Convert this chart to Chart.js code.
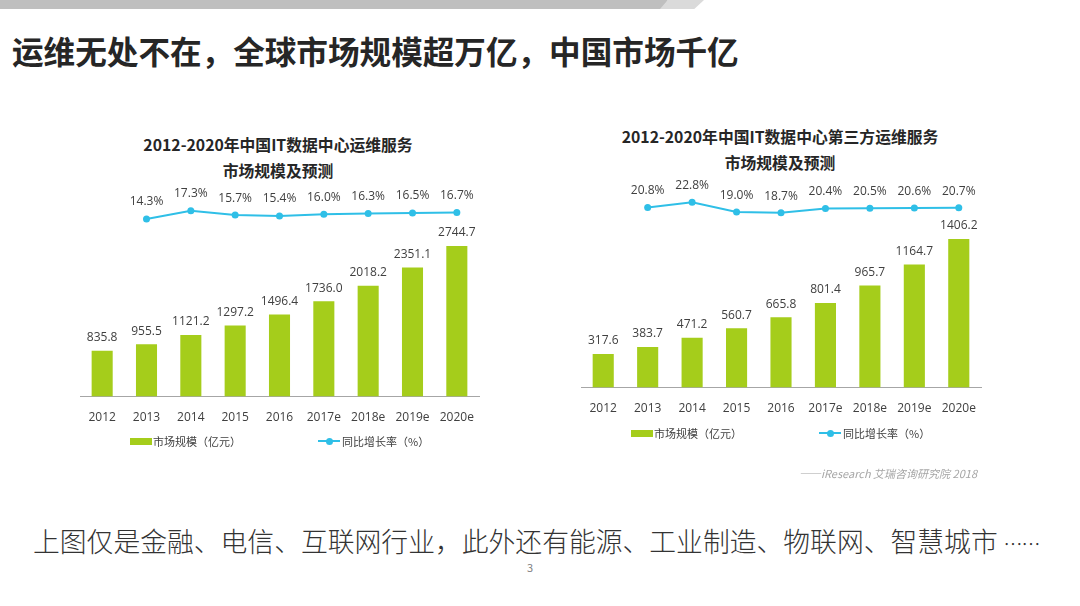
<!DOCTYPE html>
<html lang="zh-CN">
<head>
<meta charset="utf-8">
<title>运维无处不在</title>
<script src="https://cdn.jsdelivr.net/npm/chart.js@4.4.0/dist/chart.umd.min.js"></script>
<style>
  html, body { margin: 0; padding: 0; background: #fff; }
  body {
    width: 1080px; height: 606px; position: relative; overflow: hidden;
    font-family: "Noto Sans CJK SC", "Open Sans", sans-serif; color: #404040;
  }
  .band { position: absolute; top: 0; height: 9px; }
  .band.dark  { left: 0; width: 668px; background: #bfbfbf; clip-path: polygon(0 0, 100% 0, 99% 100%, 0 100%); }
  .band.light { left: 660px; width: 44px; background: #dadada; clip-path: polygon(18% 0, 100% 0, 78% 100%, 0 100%); }
  .headline {
    position: absolute; left: 12px; top: 32px; line-height: 36px;
    font-size: 31.6px; font-weight: 700; color: #262626; white-space: nowrap;
  }
  .chart-title {
    position: absolute; width: 420px; text-align: center;
    font-size: 15.8px; line-height: 26px; font-weight: 700; color: #262626;
  }
  canvas { position: absolute; }
  .legend { position: absolute; height: 16px; font-size: 11px; color: #404040; }
  .legend .item { position: absolute; top: 0; display: flex; align-items: center; height: 16px; white-space: nowrap; }
  .legend .box { width: 22px; height: 7px; margin-right: 1px; }
  .legend .lineKey { width: 22px; height: 2px; position: relative; margin-right: 2px; }
  .legend .lineKey i { position: absolute; left: 8px; top: -2.5px; width: 7px; height: 7px; border-radius: 50%; }
  .source {
    position: absolute; right: 103px; top: 465px; font-size: 11px; font-style: italic;
    color: #a6a6a6; white-space: nowrap;
  }
  .note {
    position: absolute; left: 33px; top: 526px; font-size: 26.8px; line-height: 30px;
    font-weight: 300; color: #333; white-space: nowrap;
  }
  .note .dots { font-size: 19px; letter-spacing: -1px; }
  .page { position: absolute; left: 527px; top: 559px; font-size: 11px; color: #7f7f7f; }
</style>
</head>
<body>
<div class="band dark"></div>
<div class="band light"></div>
<div class="headline">运维无处不在，全球市场规模超万亿，中国市场千亿</div>

<div class="chart-title" style="left:68px; top:132px;">2012-2020年中国IT数据中心运维服务<br>市场规模及预测</div>
<div class="chart-title" style="left:570px; top:124px;">2012-2020年中国IT数据中心第三方运维服务<br>市场规模及预测</div>

<canvas id="left" width="440" height="259" style="left:60px; top:180px;"></canvas>
<canvas id="right" width="440" height="258" style="left:560px; top:172px;"></canvas>

<div class="legend" id="leftLegend" style="left:0; top:433px;"></div>
<div class="legend" id="rightLegend" style="left:0; top:425px;"></div>

<div class="source">——iResearch 艾瑞咨询研究院 2018</div>
<div class="note">上图仅是金融、电信、互联网行业，此外还有能源、工业制造、物联网、智慧城市 <span class="dots">……</span></div>
<div class="page">3</div>

<script>
// ── data ─────────────────────────────────────────────────────────────────────
const YEARS = ['2012', '2013', '2014', '2015', '2016', '2017e', '2018e', '2019e', '2020e'];

// IT data centre O&M services, market size (亿元) and YoY growth (%)
const ALL_MARKET = [835.8, 955.5, 1121.2, 1297.2, 1496.4, 1736.0, 2018.2, 2351.1, 2744.7];
const ALL_GROWTH = [null, 14.3, 17.3, 15.7, 15.4, 16.0, 16.3, 16.5, 16.7];

// third-party O&M services
const TP_MARKET = [317.6, 383.7, 471.2, 560.7, 665.8, 801.4, 965.7, 1164.7, 1406.2];
const TP_GROWTH = [null, 20.8, 22.8, 19.0, 18.7, 20.4, 20.5, 20.6, 20.7];

const BAR_LABEL = '市场规模（亿元）';
const LINE_LABEL = '同比增长率（%）';

const GREEN = '#a5cd1b';
const CYAN = '#2fbfe7';
const TEXT = '#404040';
const NUM_FONT = '"Open Sans", "Noto Sans CJK SC", sans-serif';

Chart.defaults.font.family = NUM_FONT;
Chart.defaults.color = TEXT;

// ── value labels above bars and points ───────────────────────────────────────
const valueLabels = {
  id: 'valueLabels',
  afterDatasetsDraw(chart) {
    const ctx = chart.ctx;
    ctx.save();
    ctx.font = '12px ' + NUM_FONT;
    ctx.fillStyle = TEXT;
    ctx.textAlign = 'center';
    ctx.textBaseline = 'middle';
    chart.data.datasets.forEach((ds, i) => {
      const isLine = ds.type === 'line';
      chart.getDatasetMeta(i).data.forEach((el, j) => {
        const v = ds.data[j];
        if (v == null) return;
        const text = isLine ? v.toFixed(1) + '%' : v.toFixed(1);
        ctx.fillText(text, el.x, el.y - (isLine ? ds.labelGap : 13));
      });
    });
    ctx.restore();
  }
};

function makeChart(id, market, growth, opts) {
  return new Chart(document.getElementById(id), {
    type: 'bar',
    data: {
      labels: YEARS,
      datasets: [
        {
          type: 'line',
          label: LINE_LABEL,
          data: growth,
          yAxisID: 'y2',
          borderColor: CYAN,
          backgroundColor: CYAN,
          borderWidth: 2,
          pointRadius: 3.5,
          pointBackgroundColor: CYAN,
          pointBorderWidth: 0,
          tension: 0,
          labelGap: opts.lineGap,
        },
        {
          label: BAR_LABEL,
          data: market,
          yAxisID: 'y',
          backgroundColor: GREEN,
          barPercentage: 0.475,
          categoryPercentage: 1,
        },
      ],
    },
    options: {
      responsive: false,
      animation: false,
      layout: { padding: opts.padding },
      plugins: { legend: { display: false }, tooltip: { enabled: false } },
      scales: {
        x: {
          grid: { display: false, drawTicks: false },
          border: { display: true, color: '#a6a6a6', width: 1 },
          ticks: { padding: 14, color: TEXT, font: { size: 12 }, maxRotation: 0, autoSkip: false },
        },
        y: { display: false, min: 0, max: opts.yMax },
        y2: { display: false, position: 'right', min: opts.gMin, max: opts.gMax },
      },
    },
    plugins: [valueLabels],
  });
}

// ── HTML legend built from the datasets ──────────────────────────────────────
function buildLegend(chart, elId, lefts) {
  const el = document.getElementById(elId);
  const items = [chart.data.datasets[1], chart.data.datasets[0]];
  el.innerHTML = items.map((ds, k) => {
    const key = ds.type === 'line'
      ? `<span class="lineKey" style="background:${ds.borderColor}"><i style="background:${ds.borderColor}"></i></span>`
      : `<span class="box" style="background:${ds.backgroundColor}"></span>`;
    return `<div class="item" style="left:${lefts[k]}px">${key}${ds.label}</div>`;
  }).join('');
}

const leftChart = makeChart('left', ALL_MARKET, ALL_GROWTH, {
  padding: { left: 20, right: 21, top: 10, bottom: 0 },
  yMax: 3765, gMin: -51.5, gMax: 25.0, lineGap: 17,
});
const rightChart = makeChart('right', TP_MARKET, TP_GROWTH, {
  padding: { left: 21, right: 19, top: 10, bottom: 0 },
  yMax: 1945, gMin: -50.2, gMax: 30.8, lineGap: 16.5,
});

buildLegend(leftChart, 'leftLegend', [130, 318]);
buildLegend(rightChart, 'rightLegend', [631, 819]);
</script>
</body>
</html>
